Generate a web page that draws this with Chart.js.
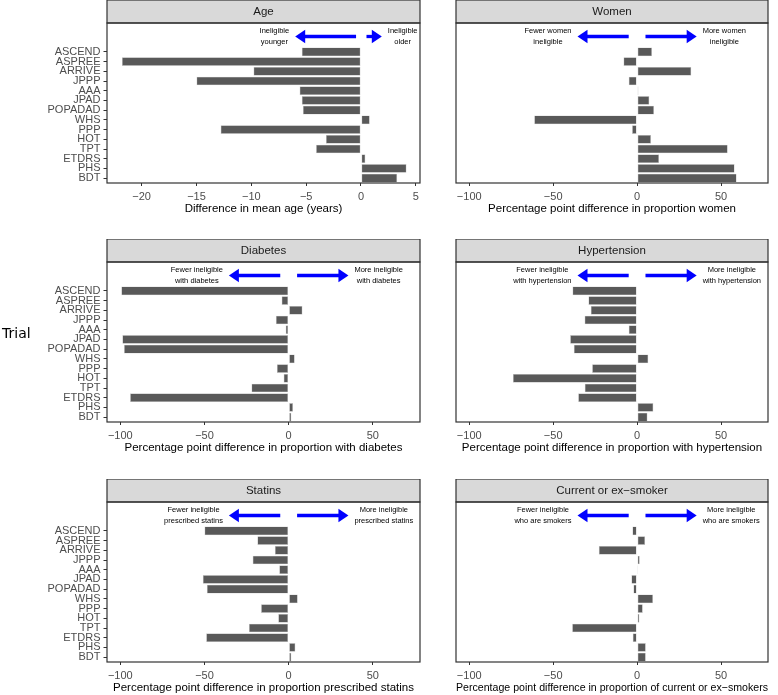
<!DOCTYPE html>
<html>
<head>
<meta charset="utf-8">
<script src="https://cdn.jsdelivr.net/npm/chart.js@4.4.1/dist/chart.umd.min.js"></script>
<style>
  body { margin: 0; background: #fff; overflow: hidden; }
  #wrap { position: relative; width: 778px; height: 695px; overflow: hidden; }
  canvas { position: absolute; }
  #trial { position: absolute; left: 2px; top: 325px; font: 14px "DejaVu Sans", sans-serif; line-height: 16px; color: #000; }
</style>
</head>
<body>
<div id="wrap">
  <canvas id="age" width="430" height="219" style="left:0;top:0"></canvas>
  <canvas id="women" width="378" height="219" style="left:400px;top:0"></canvas>
  <canvas id="diabetes" width="430" height="219" style="left:0;top:239px"></canvas>
  <canvas id="hypertension" width="378" height="219" style="left:400px;top:239px"></canvas>
  <canvas id="statins" width="430" height="219" style="left:0;top:479px"></canvas>
  <canvas id="smoker" width="378" height="219" style="left:400px;top:479px"></canvas>
  <div id="trial">Trial</div>
</div>
<script>
const trials = ['ASCEND', 'ASPREE', 'ARRIVE', 'JPPP', 'AAA', 'JPAD', 'POPADAD', 'WHS', 'PPP', 'HOT', 'TPT', 'ETDRS', 'PHS', 'BDT'];

// difference between ineligible and eligible participants, per trial
const ageDiff = [-5.4, -21.8, -9.8, -15.0, -5.6, -5.4, -5.3, 0.8, -12.8, -3.2, -4.1, 0.4, 4.15, 3.3];
const womenDiff = [8.9, -8.1, 32.3, -5.0, 0.8, 7.3, 10.1, -61.3, -3.0, 8.3, 54.0, 13.1, 58.1, 59.3];
const diabetesDiff = [-99.4, -4.2, 8.2, -7.6, -1.8, -98.8, -97.8, 3.6, -7.0, -3.0, -22.1, -94.2, 2.6, 1.6];
const hypertensionDiff = [-38.5, -29.0, -27.6, -31.3, -5.0, -39.9, -37.7, 6.7, -26.8, -74.0, -31.2, -35.1, 9.7, 6.2];
const statinsDiff = [-50.0, -18.6, -8.2, -21.4, -5.6, -51.0, -48.6, 5.4, -16.4, -6.2, -23.6, -49.0, 4.0, 1.6];
const smokerDiff = [-2.8, 4.8, -22.8, 1.6, 0.6, -3.4, -2.2, 9.5, 3.4, 1.4, -38.7, -2.6, 5.2, 5.2];

const ageTicks = [-20, -15, -10, -5, 0, 5];
const pctTicks = [-100, -50, 0, 50];

const FONT = '"Liberation Sans", Arial, sans-serif';
const STRIP = 23;   // strip height
const GAP = 24;     // empty band above the bars, holds the arrows
Chart.defaults.font.family = FONT;

function fmt(v) {
    return v < 0 ? '\u2212' + Math.abs(v) : String(v);
}

// strip header, panel border and the blue direction arrows
function facetPlugin(title, arrows) {
    return {
        id: 'facet',
        afterDraw(chart) {
            const ctx = chart.ctx;
            const a = chart.chartArea;
            const xs = chart.scales.x;
            const top = a.top - GAP;
            ctx.save();
            ctx.fillStyle = '#d9d9d9';
            ctx.fillRect(a.left, top - STRIP, a.right - a.left, STRIP);
            ctx.strokeStyle = '#333';
            ctx.lineWidth = 1.2;
            ctx.strokeRect(a.left, top - STRIP, a.right - a.left, STRIP);
            ctx.fillStyle = '#1a1a1a';
            ctx.font = '11.5px ' + FONT;
            ctx.textAlign = 'center';
            ctx.textBaseline = 'middle';
            ctx.fillText(title, (a.left + a.right) / 2, top - STRIP / 2);
            ctx.strokeRect(a.left, top, a.right - a.left, a.bottom - top);

            const y = top + 13.5;
            ctx.lineWidth = 3.3;
            [arrows.left, arrows.right].forEach(function(seg, k) {
                const x1 = xs.getPixelForValue(seg[0]);
                const x2 = xs.getPixelForValue(seg[1]);
                const dir = x2 > x1 ? 1 : -1;
                ctx.strokeStyle = '#0000ff';
                ctx.fillStyle = '#0000ff';
                ctx.beginPath();
                ctx.moveTo(x1, y);
                ctx.lineTo(x2 - dir * 9, y);
                ctx.stroke();
                ctx.beginPath();
                ctx.moveTo(x2, y);
                ctx.lineTo(x2 - dir * 10, y - 6.7);
                ctx.lineTo(x2 - dir * 10, y + 6.7);
                ctx.closePath();
                ctx.fill();

                const lines = k === 0 ? arrows.leftText : arrows.rightText;
                ctx.font = '7.5px ' + FONT;
                ctx.fillStyle = '#000';
                const w = Math.max.apply(null, lines.map(l => ctx.measureText(l).width));
                const cx = dir < 0 ? x2 - 6 - w / 2 : x2 + 6 + w / 2;
                ctx.fillText(lines[0], cx, y - 5.5);
                ctx.fillText(lines[1], cx, y + 5.5);
            });
            ctx.restore();
        }
    };
}

function makePanel(id, values, title, xTitle, xTicks, xMin, xMax, showY, arrows) {
    new Chart(document.getElementById(id), {
        type: 'bar',
        data: {
            labels: trials,
            datasets: [{
                data: values,
                backgroundColor: '#595959',
                borderColor: '#c4c4c4',
                borderWidth: 0.6,
                borderSkipped: false,
                barPercentage: 0.9,
                categoryPercentage: 1
            }]
        },
        options: {
            indexAxis: 'y',
            responsive: false,
            animation: false,
            layout: { padding: { top: STRIP + GAP, left: showY ? 0 : 56, right: 10, bottom: 0 } },
            plugins: { legend: { display: false }, tooltip: { enabled: false } },
            scales: {
                x: {
                    type: 'linear',
                    min: xMin,
                    max: xMax,
                    bounds: 'data',
                    afterBuildTicks: axis => { axis.ticks = xTicks.map(v => ({ value: v })); },
                    afterFit: axis => { axis.height = 36; },
                    grid: { display: true, drawOnChartArea: false, tickLength: 3, color: '#333' },
                    border: { display: false },
                    ticks: {
                        autoSkip: false, maxRotation: 0, padding: 4,
                        color: '#4d4d4d', font: { size: 11 },
                        callback: v => fmt(v)
                    },
                    title: {
                        display: true, text: xTitle, color: '#000',
                        font: { size: 11.5 }, padding: { top: 0, bottom: 3 }
                    }
                },
                y: {
                    type: 'category',
                    display: showY,
                    offset: true,
                    afterFit: axis => { axis.width = showY ? 107 : 0; },
                    grid: { display: true, offset: false, drawOnChartArea: false, tickLength: 3.5, color: '#333' },
                    border: { display: false },
                    ticks: {
                        autoSkip: false, padding: 3,
                        color: '#4d4d4d', font: { size: 11 }
                    }
                }
            }
        },
        plugins: [facetPlugin(title, arrows)]
    });
}

const pctArrows = { left: [-5, -35.5], right: [5, 35.5] };

makePanel('age', ageDiff, 'Age', 'Difference in mean age (years)', ageTicks, -23.16, 5.38, true,
    { left: [-0.45, -6.0], right: [0.5, 1.9],
      leftText: ['Ineligible', 'younger'], rightText: ['Ineligible', 'older'] });

makePanel('women', womenDiff, 'Women', 'Percentage point difference in proportion women', pctTicks, -107.9, 78, false,
    Object.assign({ leftText: ['Fewer women', 'ineligible'], rightText: ['More women', 'ineligible'] }, pctArrows));

makePanel('diabetes', diabetesDiff, 'Diabetes', 'Percentage point difference in proportion with diabetes', pctTicks, -107.9, 78, true,
    Object.assign({ leftText: ['Fewer ineligible', 'with diabetes'], rightText: ['More ineligible', 'with diabetes'] }, pctArrows));

makePanel('hypertension', hypertensionDiff, 'Hypertension', 'Percentage point difference in proportion with hypertension', pctTicks, -107.9, 78, false,
    Object.assign({ leftText: ['Fewer ineligible', 'with hypertension'], rightText: ['More ineligible', 'with hypertension'] }, pctArrows));

makePanel('statins', statinsDiff, 'Statins', 'Percentage point difference in proportion prescribed statins', pctTicks, -107.9, 78, true,
    Object.assign({ leftText: ['Fewer ineligible', 'prescribed statins'], rightText: ['More ineligible', 'prescribed statins'] }, pctArrows));

makePanel('smoker', smokerDiff, 'Current or ex\u2212smoker', 'Percentage point difference in proportion of current or ex\u2212smokers', pctTicks, -107.9, 78, false,
    Object.assign({ leftText: ['Fewer ineligible', 'who are smokers'], rightText: ['More ineligible', 'who are smokers'] }, pctArrows));
</script>
</body>
</html>
